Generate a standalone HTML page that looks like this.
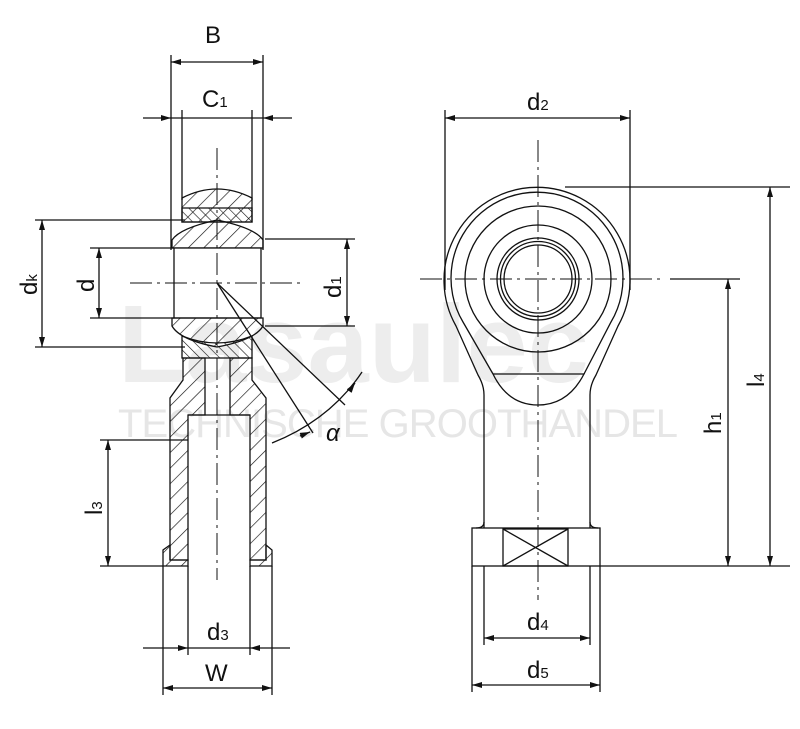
<!DOCTYPE html>
<html><head><style>
html,body{margin:0;padding:0;background:#fff;}
svg{display:block;}
text{font-family:"Liberation Sans",sans-serif;}
</style></head><body>
<svg width="800" height="729" viewBox="0 0 800 729" xmlns="http://www.w3.org/2000/svg">
<defs>
<pattern id="h" width="11" height="11" patternUnits="userSpaceOnUse" patternTransform="rotate(45)">
<line x1="0" y1="0" x2="0" y2="11" stroke="#111" stroke-width="1.3"/></pattern>
<pattern id="h2" width="7" height="7" patternUnits="userSpaceOnUse" patternTransform="rotate(-45)">
<line x1="0" y1="0" x2="0" y2="7" stroke="#111" stroke-width="1.2"/></pattern>
<marker id="a" viewBox="0 0 10 6" refX="10" refY="3" markerWidth="11" markerHeight="6" orient="auto-start-reverse" markerUnits="userSpaceOnUse"><path d="M0,0L10,3L0,6z" fill="#111"/></marker>
</defs>
<!-- watermark -->
<text x="118" y="382" font-size="110" font-weight="bold" fill="#ededed">Lasaulec</text>
<text x="118" y="437" font-size="40" fill="#e6e6e6" textLength="560">TECHNISCHE GROOTHANDEL</text>

<g stroke="#111" stroke-width="1.3" fill="none">
<!-- LEFT VIEW -->
<line x1="171" y1="55" x2="171" y2="250"/><line x1="263" y1="55" x2="263" y2="250"/>
<line x1="182" y1="110" x2="182" y2="200"/><line x1="252" y1="110" x2="252" y2="200"/>
<line x1="171" y1="62" x2="263" y2="62" marker-start="url(#a)" marker-end="url(#a)"/>
<line x1="143" y1="118" x2="171" y2="118" marker-end="url(#a)"/>
<line x1="292" y1="118" x2="263" y2="118" marker-end="url(#a)"/>
<line x1="171" y1="118" x2="263" y2="118"/>
<path d="M182,222 L182,198 Q217,180 252,198 L252,222 Z" fill="url(#h)"/>
<path d="M182,208 L252,208 L252,222 L182,222 Z" fill="url(#h2)"/>
<path d="M172,240 Q180,228 217,220 Q255,228 263,240 L263,248 L172,248 Z" fill="url(#h)"/>
<rect x="174" y="248" width="87" height="70" fill="#fff"/>
<path d="M172,318 L263,318 L263,326 Q255,340 217,347 Q180,340 172,326 Z" fill="url(#h)"/>
<path d="M182,336 Q217,350 252,336 L252,358 L182,358 Z" fill="url(#h2)"/>
<path d="M183,358 L205,358 L205,415 L188,415 L188,560 L170,560 L170,398 L183,380 Z" fill="url(#h)"/>
<path d="M230,358 L252,358 L252,380 L266,398 L266,560 L250,560 L250,415 L230,415 Z" fill="url(#h)"/>
<path d="M170,545 L163,550 L163,566 L188,566 L188,560 L170,560Z" fill="url(#h)"/>
<path d="M266,545 L272,550 L272,566 L250,566 L250,560 L266,560Z" fill="url(#h)"/>
<line x1="188" y1="415" x2="250" y2="415"/>
<line x1="217" y1="148" x2="217" y2="580" stroke-dasharray="22,5,3,5" stroke-width="1"/>
<line x1="130" y1="283" x2="300" y2="283" stroke-dasharray="22,5,3,5" stroke-width="1"/>
<line x1="35" y1="220" x2="185" y2="220"/><line x1="35" y1="347" x2="185" y2="347"/>
<line x1="42" y1="220" x2="42" y2="347" marker-start="url(#a)" marker-end="url(#a)"/>
<line x1="90" y1="248" x2="174" y2="248"/><line x1="90" y1="318" x2="174" y2="318"/>
<line x1="99" y1="248" x2="99" y2="318" marker-start="url(#a)" marker-end="url(#a)"/>
<line x1="265" y1="239" x2="355" y2="239"/><line x1="265" y1="326" x2="355" y2="326"/>
<line x1="347" y1="239" x2="347" y2="326" marker-start="url(#a)" marker-end="url(#a)"/>
<line x1="217" y1="283" x2="345" y2="405"/><line x1="217" y1="283" x2="313" y2="433"/>
<path d="M272,443 Q330,420 362,372" />
<line x1="300" y1="436" x2="310" y2="432" marker-end="url(#a)"/>
<line x1="350" y1="390" x2="355" y2="383" marker-end="url(#a)"/>
<line x1="100" y1="440" x2="188" y2="440"/><line x1="100" y1="566" x2="163" y2="566"/>
<line x1="108" y1="440" x2="108" y2="566" marker-start="url(#a)" marker-end="url(#a)"/>
<line x1="188" y1="566" x2="188" y2="655"/><line x1="250" y1="566" x2="250" y2="655"/>
<line x1="163" y1="566" x2="163" y2="695"/><line x1="272" y1="566" x2="272" y2="695"/>
<line x1="143" y1="648" x2="188" y2="648" marker-end="url(#a)"/>
<line x1="290" y1="648" x2="250" y2="648" marker-end="url(#a)"/>
<line x1="188" y1="648" x2="250" y2="648"/>
<line x1="163" y1="688" x2="272" y2="688" marker-start="url(#a)" marker-end="url(#a)"/>

<!-- RIGHT VIEW -->
<line x1="445" y1="110" x2="445" y2="290"/><line x1="630" y1="110" x2="630" y2="290"/>
<line x1="445" y1="118" x2="630" y2="118" marker-start="url(#a)" marker-end="url(#a)"/>
<path d="M484,528 L484,395 Q484,385 478,375 L456,326 A93,93 0 1 1 618,326 L596,375 Q590,385 590,395 L590,528"/>
<path d="M493,374 L463,322 A86,86 0 1 1 611,322 L584,374"/>
<path d="M493,374 L584,374 Q568,405 538,405 Q508,405 493,374"/>
<circle cx="538" cy="279" r="73"/>
<circle cx="538" cy="279" r="54"/>
<circle cx="538" cy="279" r="41"/>
<circle cx="538" cy="279" r="37.5"/>
<circle cx="538" cy="279" r="34"/>
<path d="M484,522 Q484,528 476,528 M590,522 Q590,528 598,528"/>
<rect x="472" y="528" width="128" height="38"/>
<rect x="503" y="529" width="65" height="37"/>
<line x1="503" y1="529" x2="568" y2="566"/><line x1="568" y1="529" x2="503" y2="566"/>
<line x1="538" y1="140" x2="538" y2="600" stroke-dasharray="22,5,3,5" stroke-width="1"/>
<line x1="420" y1="279" x2="665" y2="279" stroke-dasharray="22,5,3,5" stroke-width="1"/>
<line x1="565" y1="187" x2="790" y2="187"/>
<line x1="670" y1="279" x2="740" y2="279"/>
<line x1="600" y1="566" x2="790" y2="566"/>
<line x1="728" y1="279" x2="728" y2="566" marker-start="url(#a)" marker-end="url(#a)"/>
<line x1="770" y1="187" x2="770" y2="566" marker-start="url(#a)" marker-end="url(#a)"/>
<line x1="484" y1="566" x2="484" y2="645"/><line x1="590" y1="566" x2="590" y2="645"/>
<line x1="472" y1="566" x2="472" y2="692"/><line x1="600" y1="566" x2="600" y2="692"/>
<line x1="484" y1="638" x2="590" y2="638" marker-start="url(#a)" marker-end="url(#a)"/>
<line x1="472" y1="685" x2="600" y2="685" marker-start="url(#a)" marker-end="url(#a)"/>
</g>

<g font-size="24" fill="#111">
<text x="205" y="43">B</text>
<text x="202" y="107">C<tspan font-size="15">1</tspan></text>
<text x="207" y="640">d<tspan font-size="15">3</tspan></text>
<text x="205" y="681">W</text>
<text x="527" y="110">d<tspan font-size="15">2</tspan></text>
<text x="527" y="630">d<tspan font-size="15">4</tspan></text>
<text x="527" y="678">d<tspan font-size="15">5</tspan></text>
<text x="326" y="441" font-family="Liberation Serif" font-style="italic">α</text>
<text transform="translate(37,295) rotate(-90)">d<tspan font-size="15">k</tspan></text>
<text transform="translate(94,292) rotate(-90)">d</text>
<text transform="translate(341,298) rotate(-90)">d<tspan font-size="15">1</tspan></text>
<text transform="translate(102,515) rotate(-90)">l<tspan font-size="15">3</tspan></text>
<text transform="translate(721,434) rotate(-90)">h<tspan font-size="15">1</tspan></text>
<text transform="translate(764,387) rotate(-90)">l<tspan font-size="15">4</tspan></text>
</g>
</svg>
</body></html>
